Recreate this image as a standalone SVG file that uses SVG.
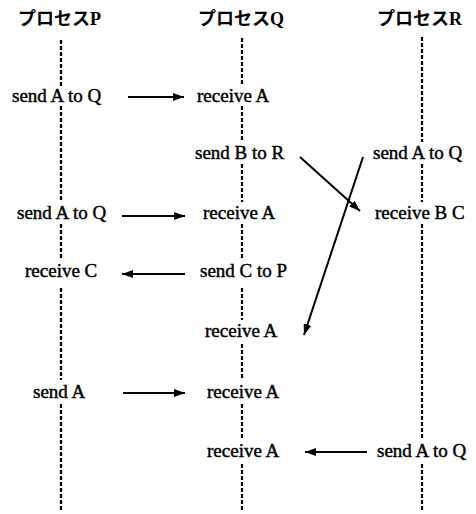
<svg xmlns="http://www.w3.org/2000/svg" width="476" height="514" viewBox="0 0 476 514">
  <defs>
    <marker id="head" viewBox="0 0 11 8" refX="11" refY="4" markerWidth="11" markerHeight="8" markerUnits="userSpaceOnUse" orient="auto">
      <path d="M0,0 L11,4 L0,8 Z" fill="#000"/>
    </marker>
    <style>
      .hdr { font-family: "Liberation Serif", "Noto Sans CJK JP", serif; font-size: 18px; font-weight: bold; fill: #000; }
      .lbl { font-family: "Liberation Serif", serif; font-size: 19px; fill: #000; stroke: #000; stroke-width: 0.45; }
      .life { stroke: #000; stroke-width: 2.2; stroke-dasharray: 4 2; fill: none; }
      .msg { stroke: #000; stroke-width: 2; fill: none; marker-end: url(#head); }
    </style>
  </defs>
  <rect width="476" height="514" fill="#fff"/>

  <!-- process lifelines, broken where an event label sits -->
  <g id="lifelines">
    <path class="life" d="M61,40 V86 M61,106 V202 M61,224 V260 M61,288 V380 M61,404 V510"/>
    <path class="life" d="M242,38 V86 M242,106 V142 M242,164 V202 M242,224 V260 M242,288 V320 M242,344 V380 M242,404 V438 M242,464 V510"/>
    <path class="life" d="M422,37 V142 M422,164 V202 M422,224 V438 M422,464 V510"/>
  </g>

  <g id="procP">
    <text class="hdr" x="18" y="25">プロセスP</text>
    <text class="lbl" x="12" y="102">send A to Q</text>
    <text class="lbl" x="17" y="219">send A to Q</text>
    <text class="lbl" x="25" y="277">receive C</text>
    <text class="lbl" x="33" y="398">send A</text>
  </g>

  <g id="procQ">
    <text class="hdr" x="198" y="25">プロセスQ</text>
    <text class="lbl" x="197" y="102">receive A</text>
    <text class="lbl" x="195" y="159">send B to R</text>
    <text class="lbl" x="203" y="219">receive A</text>
    <text class="lbl" x="200" y="277">send C to P</text>
    <text class="lbl" x="205" y="337">receive A</text>
    <text class="lbl" x="207" y="398">receive A</text>
    <text class="lbl" x="207" y="457">receive A</text>
  </g>

  <g id="procR">
    <text class="hdr" x="377" y="25">プロセスR</text>
    <text class="lbl" x="373" y="159">send A to Q</text>
    <text class="lbl" x="375" y="219">receive B C</text>
    <text class="lbl" x="377" y="457">send A to Q</text>
  </g>

  <!-- messages -->
  <g id="connectors">
    <line class="msg" x1="128" y1="97" x2="184" y2="97"/>
    <line class="msg" x1="122" y1="216" x2="185" y2="216"/>
    <line class="msg" x1="185" y1="274" x2="122" y2="274"/>
    <line class="msg" x1="123" y1="393" x2="185" y2="393"/>
    <line class="msg" x1="367" y1="452" x2="305" y2="452"/>
    <line class="msg" x1="300" y1="157" x2="360" y2="211"/>
    <line class="msg" x1="363" y1="157" x2="304" y2="335"/>
  </g>
</svg>
